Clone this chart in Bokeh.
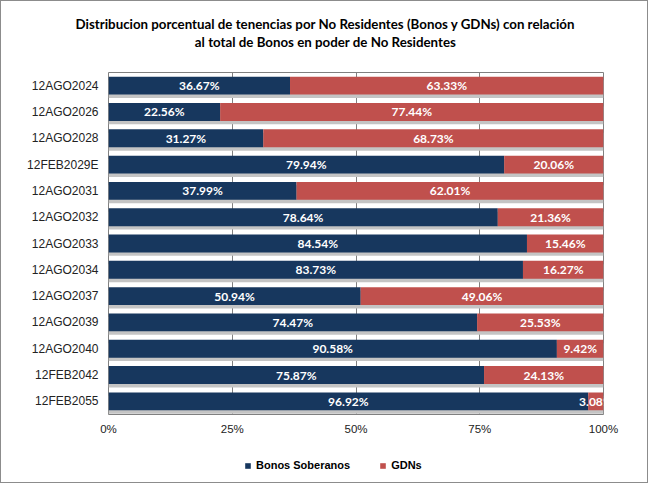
from bokeh.plotting import figure
from bokeh.layouts import column, row
from bokeh.models import (Range1d, FactorRange, FixedTicker, Legend,
                          LegendItem, ColumnDataSource)
from bokeh.transform import dodge
from bokeh.core.properties import value
from bokeh.embed import file_html
from bokeh.resources import INLINE

title_lines = ["Distribucion porcentual de tenencias por No Residentes (Bonos y GDNs) con relación",
               "al total de Bonos en poder de No Residentes"]
bonds = ["12AGO2024", "12AGO2026", "12AGO2028", "12FEB2029E", "12AGO2031", "12AGO2032",
         "12AGO2033", "12AGO2034", "12AGO2037", "12AGO2039", "12AGO2040", "12FEB2042",
         "12FEB2055"]
bonos = [36.67, 22.56, 31.27, 79.94, 37.99, 78.64, 84.54, 83.73, 50.94, 74.47, 90.58, 75.87, 96.92]
gdns = [63.33, 77.44, 68.73, 20.06, 62.01, 21.36, 15.46, 16.27, 49.06, 25.53, 9.42, 24.13, 3.08]
series_names = ["Bonos Soberanos", "GDNs"]
tick_values = [0, 25, 50, 75, 100]
tick_labels = ["0%", "25%", "50%", "75%", "100%"]

BLUE = "#17375E"
RED = "#C0504D"
GRAY = "#808080"

W = 646
H_TITLE, H_MAIN, H_LEG = 70, 369, 42

total = [b + g for b, g in zip(bonos, gdns)]
src = ColumnDataSource(dict(
    bond=bonds, bonos=bonos, gdns=gdns, total=total,
    bonos_mid=[b / 2 for b in bonos],
    gdns_mid=[b + g / 2 for b, g in zip(bonos, gdns)],
    bonos_lbl=[f"{b:.2f}%" for b in bonos],
    gdns_lbl=[f"{g:.2f}%" for g in gdns],
))

# ---------- title strip ----------
pt = figure(width=W, height=H_TITLE, output_backend="svg", toolbar_location=None,
            x_range=Range1d(0, W), y_range=Range1d(H_TITLE, 0),
            x_axis_type=None, y_axis_type=None, min_border=0)
pt.outline_line_color = None
pt.grid.grid_line_color = None
pt.text(x=[324, 324], y=[22, 40], text=title_lines, text_align="center",
        text_baseline="middle", text_font=value("Lato"), text_font_style="bold",
        text_font_size="13.3px", text_color="#000000")

# ---------- main chart ----------
p = figure(width=W, height=H_MAIN, output_backend="svg", toolbar_location=None,
           x_range=Range1d(0, 100), y_range=FactorRange(*reversed(bonds)),
           min_border_left=107, min_border_right=44, min_border_top=1,
           min_border_bottom=26)
p.outline_line_color = GRAY
p.outline_line_width = 1
p.ygrid.grid_line_color = None
p.xgrid.grid_line_color = GRAY
p.xgrid.ticker = FixedTicker(ticks=tick_values)

# shadows under the bars
p.hbar(y=dodge("bond", -0.13, range=p.y_range), left=0, right="total", height=0.68,
       source=src, fill_color="#c4c4c4", line_color=None)
p.hbar(y="bond", left=0, right="bonos", height=0.68, source=src,
       fill_color=BLUE, line_color=None)
p.hbar(y="bond", left="bonos", right="total", height=0.68, source=src,
       fill_color=RED, line_color=None)

txt = dict(text_color="white", text_font=value("Lato"), text_font_style="bold",
           text_font_size="12px", text_align="center", text_baseline="middle")
p.text(x="bonos_mid", y="bond", text="bonos_lbl", source=src, **txt)
p.text(x="gdns_mid", y="bond", text="gdns_lbl", source=src, **txt)

xa = p.xaxis[0]
xa.ticker = FixedTicker(ticks=tick_values)
xa.major_label_overrides = {v: l for v, l in zip(tick_values, tick_labels)}
xa.axis_line_color = None
xa.major_tick_line_color = None
xa.major_tick_out = 0
xa.major_tick_in = 0
xa.minor_tick_line_color = None
xa.major_label_text_font = "Liberation Sans"
xa.major_label_text_font_size = "11.5px"
xa.major_label_text_color = "#222222"
xa.major_label_standoff = 8

ya = p.yaxis[0]
ya.axis_line_color = None
ya.major_tick_line_color = None
ya.major_tick_out = 0
ya.major_tick_in = 0
ya.minor_tick_line_color = None
ya.major_label_text_font = "Liberation Sans"
ya.major_label_text_font_size = "12px"
ya.major_label_text_color = "#222222"
ya.major_label_standoff = 10

# ---------- legend strip ----------
pl = figure(width=W, height=H_LEG, output_backend="svg", toolbar_location=None,
            x_range=Range1d(0, W), y_range=Range1d(0, H_LEG),
            x_axis_type=None, y_axis_type=None, min_border=0)
pl.outline_line_color = None
pl.grid.grid_line_color = None
lr1 = pl.hbar(y=[-50], left=[0], right=[1], height=1, fill_color=BLUE, line_color=None)
lr2 = pl.hbar(y=[-50], left=[0], right=[1], height=1, fill_color=RED, line_color=None)
legend = Legend(items=[LegendItem(label=series_names[0], renderers=[lr1]),
                       LegendItem(label=series_names[1], renderers=[lr2])],
                location=(243, 10), orientation="horizontal",
                glyph_width=7, glyph_height=7, label_standoff=5, spacing=29,
                padding=0, margin=0, border_line_color=None,
                background_fill_alpha=0,
                label_text_font="Liberation Sans", label_text_font_style="bold",
                label_text_font_size="11px", label_text_color="#000000",
                label_height=14)
pl.add_layout(legend, "center")

layout = column(row(pt), p, row(pl), spacing=0)
layout.styles = {"border": "1px solid #8c8c8c"}

open("out.html", "w").write(file_html(layout, INLINE))
